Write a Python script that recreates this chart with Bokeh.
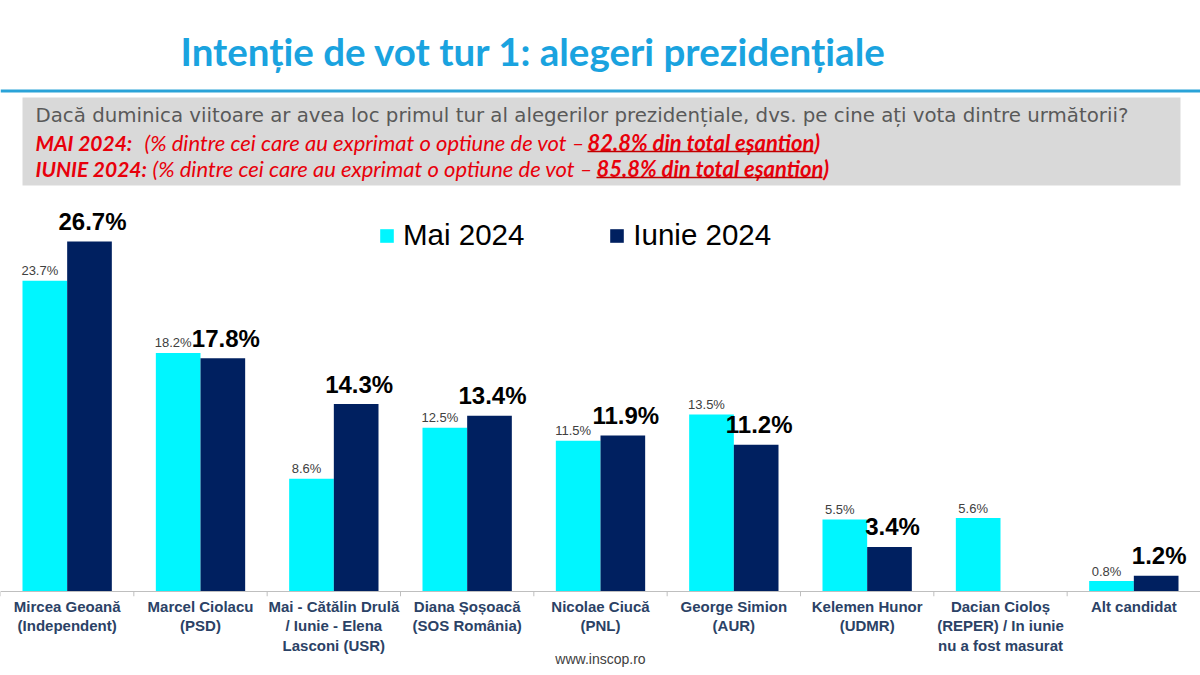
from bokeh.plotting import figure
from bokeh.models import Range1d, FactorRange, ColumnDataSource, Legend, LegendItem, Span
from bokeh.transform import dodge
from bokeh.layouts import column
from bokeh.core.properties import value
from bokeh.embed import file_html
from bokeh.resources import INLINE

# ---------------- data ----------------
candidates = [
    "Mircea Geoană\n(Independent)",
    "Marcel Ciolacu\n(PSD)",
    "Mai - Cătălin Drulă\n/ Iunie - Elena\nLasconi (USR)",
    "Diana Șoșoacă\n(SOS România)",
    "Nicolae Ciucă\n(PNL)",
    "George Simion\n(AUR)",
    "Kelemen Hunor\n(UDMR)",
    "Dacian Cioloș\n(REPER) / In iunie\nnu a fost masurat",
    "Alt candidat",
]
mai_2024 = [23.7, 18.2, 8.6, 12.5, 11.5, 13.5, 5.5, 5.6, 0.8]
iunie_2024 = [26.7, 17.8, 14.3, 13.4, 11.9, 11.2, 3.4, float("nan"), 1.2]
series_names = ["Mai 2024", "Iunie 2024"]

title_text = "Intenție de vot tur 1: alegeri prezidențiale"
question_text = ("Dacă duminica viitoare ar avea  loc primul tur al alegerilor prezidențiale, "
                 "dvs. pe cine ați vota dintre următorii?")
note_lead = ["MAI 2024:", "IUNIE 2024:"]
note_mid = "(% dintre cei care au exprimat o optiune de vot – "
note_bold = ["82.8% din total eșantion", "85.8% din total eșantion"]
footer_text = "www.inscop.ro"

CYAN = "#00F6FF"
NAVY = "#002060"
RED = "#E8000B"


def fmt(v):
    return "" if v != v else f"{v:.1f}%"


W = 1200
HEAD_H = 190
CHART_H = 675 - HEAD_H
AXIS_H = 79
PX_PER_PCT = 13.11

# ---------------- header ----------------
head = figure(width=W, height=HEAD_H, x_range=Range1d(0, W), y_range=Range1d(HEAD_H, 0),
              output_backend="svg", toolbar_location=None, min_border=0,
              x_axis_location=None, y_axis_location=None, outline_line_color=None)
head.xgrid.visible = False
head.ygrid.visible = False

head.text(x=[533], y=[50], text=[title_text], text_align="center", text_baseline="middle",
          text_font=value("Lato"), text_font_style="bold", text_font_size="38.5px", text_color="#1AA3DF")
head.segment(x0=[0], y0=[90.5], x1=[W], y1=[90.5], line_width=3, line_color="#2AA3D8")
head.quad(left=[22], right=[1180], top=[97], bottom=[185], fill_color="#D9D9D9", line_color=None)
head.text(x=[35], y=[115], text=[question_text], text_align="left", text_baseline="middle",
          text_font=value("DejaVu Sans"), text_font_size="19.8px", text_color="#595959")

line_y = [142, 168]
mid_x = [144, 152]
bold_x = [587, 596]
bold_w = [226, 226]
for i in range(2):
    head.text(x=[35], y=[line_y[i]], text=[note_lead[i]], text_baseline="middle",
              text_font=value("Lato"), text_font_style="bold italic", text_font_size="21px", text_color=RED)
    head.text(x=[mid_x[i]], y=[line_y[i]], text=[note_mid], text_baseline="middle",
              text_font=value("Lato"), text_font_style="italic", text_font_size="22px", text_color=RED)
    head.text(x=[bold_x[i]], y=[line_y[i]], text=[note_bold[i] + ")"], text_baseline="middle",
              text_font=value("Lato"), text_font_style="bold italic", text_font_size="22px", text_color=RED)
    head.segment(x0=[bold_x[i]], y0=[line_y[i] + 9], x1=[bold_x[i] + bold_w[i]], y1=[line_y[i] + 9],
                 line_width=1.5, line_color="#C00000")

# ---------------- chart ----------------
source = ColumnDataSource(dict(
    cand=candidates,
    mai=mai_2024,
    iunie=iunie_2024,
    mai_lbl=[fmt(v) for v in mai_2024],
    iunie_lbl=[fmt(v) for v in iunie_2024],
))
end_source = ColumnDataSource(dict(cand=candidates[-1:]))

frame_h = CHART_H - AXIS_H
chart = figure(width=W, height=CHART_H,
               x_range=FactorRange(*candidates, range_padding=0),
               y_range=Range1d(-5 / PX_PER_PCT, (frame_h - 5) / PX_PER_PCT),
               output_backend="svg", toolbar_location=None,
               min_border_left=0, min_border_right=0, min_border_top=0, min_border_bottom=AXIS_H,
               y_axis_location=None, outline_line_color=None)
chart.xgrid.visible = False
chart.ygrid.visible = False

bw = 0.335
r_mai = chart.vbar(x=dodge("cand", -bw / 2, range=chart.x_range), top="mai", width=bw, bottom=0,
                   source=source, fill_color=CYAN, line_color=None)
r_iun = chart.vbar(x=dodge("cand", bw / 2, range=chart.x_range), top="iunie", width=bw, bottom=0,
                   source=source, fill_color=NAVY, line_color=None)

chart.text(x=dodge("cand", -bw / 2, range=chart.x_range), y="mai", text="mai_lbl", source=source,
           text_align="center", text_baseline="middle", x_offset=-5, y_offset=-10,
           text_font=value("Liberation Sans"), text_font_size="13px", text_color="#404040")
chart.text(x=dodge("cand", bw / 2, range=chart.x_range), y="iunie", text="iunie_lbl", source=source,
           text_align="center", text_baseline="middle", x_offset=3, y_offset=-20,
           text_font=value("Liberation Sans"), text_font_style="bold", text_font_size="24px",
           text_color="#000000")

# baseline + boundary ticks
chart.add_layout(Span(location=0, dimension="width", line_color="#BFBFBF", line_width=1))
chart.segment(x0=dodge("cand", -0.5, range=chart.x_range), y0=0,
              x1=dodge("cand", -0.5, range=chart.x_range), y1=-5 / PX_PER_PCT,
              source=source, line_color="#BFBFBF", line_width=1)
chart.segment(x0=dodge("cand", 0.5, range=chart.x_range), y0=0,
              x1=dodge("cand", 0.5, range=chart.x_range), y1=-5 / PX_PER_PCT,
              source=end_source, line_color="#BFBFBF", line_width=1)

ax = chart.xaxis[0]
ax.axis_line_color = None
ax.major_tick_line_color = None
ax.minor_tick_line_color = None
ax.major_tick_out = 0
ax.major_tick_in = 0
ax.major_label_standoff = 1
ax.major_label_text_font = "Liberation Sans"
ax.major_label_text_font_style = "bold"
ax.major_label_text_font_size = "15px"
ax.major_label_text_color = "#2B4266"
ax.major_label_text_line_height = 1.15
ax.axis_label = footer_text
ax.axis_label_standoff = -6
ax.axis_label_text_font = "Liberation Sans"
ax.axis_label_text_font_style = "normal"
ax.axis_label_text_font_size = "14px"
ax.axis_label_text_color = "#404040"

legend = Legend(items=[LegendItem(label=series_names[0], renderers=[r_mai]),
                       LegendItem(label=series_names[1], renderers=[r_iun])],
                location=(378, 344), orientation="horizontal",
                glyph_width=17, glyph_height=17, label_standoff=8, spacing=84,
                padding=0, margin=0, border_line_color=None, background_fill_alpha=0,
                label_text_font="Liberation Sans", label_text_font_size="29.5px",
                label_text_color="#000000")
chart.add_layout(legend)

layout = column(head, chart)
open("out.html", "w").write(file_html(layout, INLINE))
